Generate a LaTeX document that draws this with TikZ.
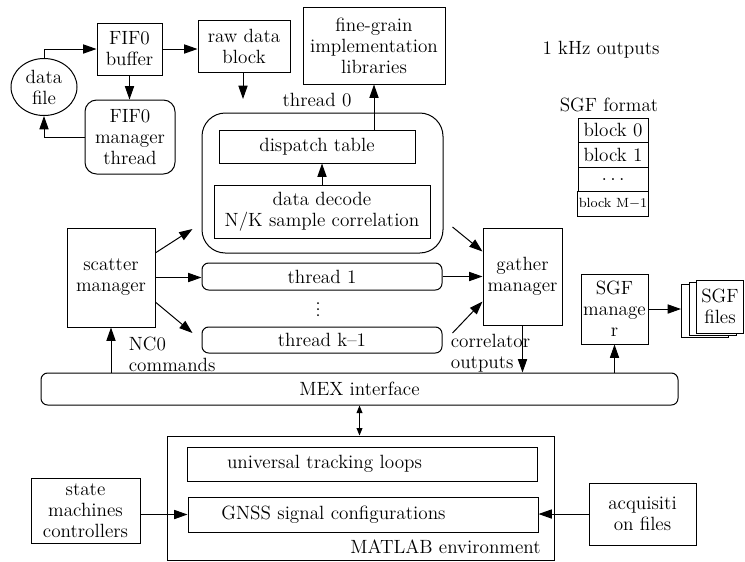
\documentclass[tikz,border=0pt]{standalone}
\usepackage{fontspec}
\usepackage{tikz}
\usetikzlibrary{arrows.meta,shapes.geometric,positioning}

\tikzset{
  blk/.style={draw, line width=0.6pt, align=center, inner sep=1pt},
  rblk/.style={blk, rounded corners=#1},
  rblk/.default=4pt,
  arr/.style={-{Triangle[length=8pt,width=5.5pt]}, line width=0.6pt},
  darr/.style={{Triangle[length=4.5pt,width=3.5pt]}-{Triangle[length=4.5pt,width=3.5pt]}, line width=0.6pt},
}

\begin{document}
\begin{tikzpicture}[x=0.6pt, y=-0.6pt, font=\fontsize{11.5}{12.6}\selectfont]
  \useasboundingbox (0,0) rectangle (745,561);

  % data input
  \node[blk, ellipse, inner sep=0pt, minimum width=39.6pt, minimum height=34.2pt] (datafile) at (44,87) {data\\file};
  \node[blk, minimum width=39pt, minimum height=31.2pt] (fifobuf) at (129.5,49) {FIF0\\buffer};
  \node[rblk=7pt, minimum width=54pt, minimum height=44.4pt] (fifomgr) at (130,137) {FIF0\\manager\\thread};
  \node[blk, minimum width=55.2pt, minimum height=31.2pt] (rawblock) at (244,46) {raw data\\block};
  \node[blk, minimum width=85.2pt, minimum height=46.2pt] (finegrain) at (374,45.5) {fine-grain\\implementation\\libraries};

  \draw[arr] (datafile.north) |- (fifobuf.west);
  \draw[arr] (fifobuf.east) -- (fifobuf.east -| rawblock.west);
  \draw[arr] (fifobuf.south) -- (fifobuf.south |- fifomgr.north);
  \draw[arr] (fifomgr.west) -| (datafile.south);

  % thread 0
  \node (thr0label) at (317,100) {thread 0};
  \node[rblk=14pt, minimum width=144.6pt, minimum height=84pt] (thread0) at (322.5,183) {};
  \node[blk, minimum width=117.6pt, minimum height=19.8pt] (dispatch) at (317,146.5) {dispatch table};
  \node[blk, minimum width=129.6pt, minimum height=31.8pt] (decode) at (322,211.5) {data decode\\N/K sample correlation};
  \coordinate (rawin) at (243,99);

  \draw[arr] (rawblock.south -| rawin) -- (rawin);
  \draw[arr] (decode.north) -- (decode.north |- dispatch.south);
  \draw[arr] (finegrain.south |- dispatch.north) -- (finegrain.south);

  % other threads
  \node[rblk, minimum width=144pt, minimum height=16.2pt] (thread1) at (322,276.5) {thread 1};
  \foreach \k in {-1,0,1}
    \fill (318,309+6*\k) circle (0.6pt);
  \node[rblk, minimum width=144pt, minimum height=15.6pt] (threadk) at (322,340) {thread k--1};

  % scatter / gather
  \node[blk, minimum width=52.8pt, minimum height=59.4pt] (scatter) at (111,277.5) {scatter\\manager};
  \node[blk, minimum width=47.4pt, minimum height=58.2pt] (gather) at (522.5,276.5) {gather\\manager};

  \draw[arr] (scatter.29) -- ([shift={(-9,46)}]thread0.west);
  \draw[arr] (scatter.east) -- (scatter.east -| thread1.west);
  \draw[arr] (scatter.-29) -- ([shift={(-9,-7)}]threadk.west);
  \draw[arr] ([shift={(9,44)}]thread0.east) -- (gather.148);
  \draw[arr] (thread1.east) -- (thread1.east -| gather.west);
  \draw[arr] ([shift={(10,-7)}]threadk.east) -- (gather.212);

  % SGF output
  \node (khz) at (601,50) {1 kHz outputs};
  \node (sgffmt) at (609,105) {SGF format};
  \foreach \i/\txt in {0/block 0, 1/block 1, 2/$\dots$, 3/{\fontsize{8}{9}\selectfont block M$-$1}}
    \node[blk, minimum width=42pt, minimum height=14.7pt] (sgfrow\i) at (613,130.5+24.5*\i) {\txt};

  \node[blk, minimum width=40.2pt, minimum height=42pt] (sgfmgr) at (614.5,309) {SGF\\manage\\r};
  \foreach \dx/\dy/\n in {-15/4.5/fileb, -7.5/2/filem}
    \node[blk, fill=white, minimum width=28.2pt, minimum height=31.8pt] (\n) at (720+\dx,306.5+\dy) {};
  \node[blk, fill=white, minimum width=28.2pt, minimum height=31.8pt] (sgffiles) at (720,306.5) {SGF\\files};
  \draw[arr] (sgfmgr.east) -- (sgfmgr.east -| fileb.west);

  % MEX interface
  \node[rblk, minimum width=382.2pt, minimum height=19.2pt] (mex) at (359.5,389) {MEX interface};
  \node[anchor=west, align=left] (nco) at (123,354) {NC0\\commands};
  \node[anchor=west, align=left] (corrout) at (445,353) {correlator\\outputs};

  \draw[arr] (scatter.south |- mex.north) -- (scatter.south);
  \draw[arr] (gather.south) -- (gather.south |- mex.north);
  \draw[arr] (sgfmgr.south |- mex.north) -- (sgfmgr.south);

  % MATLAB side
  \node[blk, minimum width=232.2pt, minimum height=74.4pt] (matlab) at (360.5,498) {};
  \node[anchor=south east] (matlabtxt) at ([shift={(-8,-1)}]matlab.south east) {MATLAB environment};
  \node[blk, minimum width=210pt, minimum height=20.4pt, text width=162pt, inner xsep=24pt, align=left] (tracking) at (362,464) {universal tracking loops};
  \node[blk, minimum width=210pt, minimum height=21pt, text width=170pt, inner xsep=20pt, align=left] (gnss) at (363,514.5) {GNSS signal configurations};
  \node[blk, minimum width=65.4pt, minimum height=39pt] (state) at (85.5,510.5) {state\\machines\\controllers};
  \node[blk, minimum width=64.2pt, minimum height=37.2pt] (acq) at (642.5,514) {acquisiti\\on files};

  \draw[darr] (mex.south) -- (mex.south |- matlab.north);
  \draw[arr] (state.east |- gnss.west) -- (gnss.west);
  \draw[arr] (acq.west) -- (acq.west -| gnss.east);
\end{tikzpicture}
\end{document}
